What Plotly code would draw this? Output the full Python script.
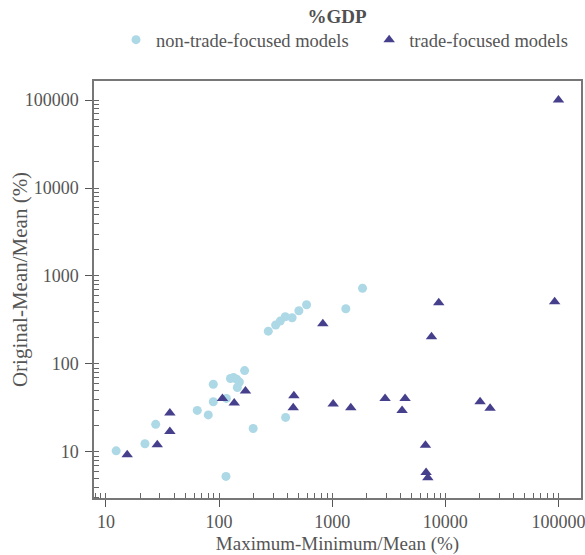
import plotly.graph_objects as go

# ---- data ----
non_trade_x = [12.3, 22.1, 27.5, 64.1, 80.2, 88.8, 88.8, 116, 115, 126, 134, 143, 151, 145,
               168, 200, 387, 272, 316, 347, 384, 442, 507, 593, 1318, 1852]
non_trade_y = [10.3, 12.4, 20.6, 29.7, 26.4, 58.9, 37.2, 40.6, 5.28, 68.4, 70.2, 67.1, 62.5, 54.1,
               84.2, 18.5, 24.7, 236, 277, 307, 344, 335, 403, 471, 424, 726]

trade_x = [15.4, 28.4, 36.7, 36.7, 107, 136, 171, 826, 458, 452, 1019, 1459, 2931, 4404, 4144,
           6668, 6755, 6998, 7541, 8742, 20270, 24850, 92500, 100000]
trade_y = [9.31, 12.1, 27.7, 17.1, 40.4, 36.1, 49.4, 287, 43.5, 31.8, 35, 31.8, 40.6, 40.6, 29.7,
           11.9, 5.83, 5.08, 204, 496, 37.2, 31.3, 509, 100000]

major_ticks = [10, 100, 1000, 10000, 100000]
major_labels = ["10", "100", "1000", "10000", "100000"]
mid_ticks = [5, 50, 500, 5000, 50000]

title_text = "%GDP"
x_title = "Maximum-Minimum/Mean (%)"
y_title = "Original-Mean/Mean (%)"

FONT = "Liberation Serif"
TXT = "#555555"
LINE = "#777777"
TICK = "#555555"
XR = [0.894, 5.199]
YR = [0.477, 5.216]

fig = go.Figure()
fig.add_trace(go.Scatter(x=non_trade_x, y=non_trade_y, mode="markers",
                         name="non-trade-focused models", legend="legend", showlegend=True,
                         marker=dict(symbol="circle", size=9, color="#add8e6")))
fig.add_trace(go.Scatter(x=trade_x, y=trade_y, mode="markers",
                         name="trade-focused models", legend="legend2", showlegend=True,
                         marker=dict(symbol="triangle-up", size=10, color="#463f8c")))

common = dict(type="log", showgrid=False, zeroline=False)
leg_common = dict(orientation="h", xanchor="left", y=1.098, yanchor="middle",
                  font=dict(size=18.5, color=TXT), itemwidth=30, bgcolor="rgba(0,0,0,0)")

fig.update_layout(
    width=585, height=555,
    margin=dict(l=94, r=4, t=81, b=57, autoexpand=False),
    paper_bgcolor="white", plot_bgcolor="white",
    showlegend=True,
    font=dict(family=FONT, color=TXT, size=18),
    title=dict(text="<b>" + title_text + "</b>", x=0.576, xanchor="center",
               y=0.971, yanchor="middle", font=dict(size=19, color="#505050")),
    legend=dict(**leg_common, x=0.0452),
    legend2=dict(**leg_common, x=0.565),
    xaxis=dict(**common, range=XR, showline=True, linecolor=LINE, linewidth=1.5, mirror=True,
               tickvals=major_ticks, ticktext=major_labels, ticks="outside", ticklen=7,
               tickcolor=TICK, tickwidth=1, tickfont=dict(size=18, color=TXT),
               ticklabeloverflow="allow",
               minor=dict(ticks="inside", ticklen=5, tickcolor="#666666", dtick="D1", showgrid=False),
               title=dict(text=x_title, font=dict(size=19, color=TXT), standoff=8)),
    yaxis=dict(**common, range=YR, showline=True, linecolor=LINE, linewidth=1.5, mirror=True,
               tickvals=major_ticks, ticktext=major_labels, ticks="outside", ticklen=7,
               tickcolor=TICK, tickwidth=1, tickfont=dict(size=18, color=TXT),
               ticklabelstandoff=3, ticklabeloverflow="allow",
               minor=dict(ticks="inside", ticklen=5, tickcolor="#666666", dtick="D1", showgrid=False)),
    xaxis2=dict(**common, range=XR, overlaying="x", anchor="y", side="bottom",
                tickvals=major_ticks, ticks="inside", ticklen=14, tickcolor=TICK,
                showticklabels=False, showline=False),
    yaxis2=dict(**common, range=YR, overlaying="y", anchor="x", side="left",
                tickvals=major_ticks, ticks="inside", ticklen=14, tickcolor=TICK,
                showticklabels=False, showline=False),
    xaxis3=dict(**common, range=XR, overlaying="x", anchor="y", side="bottom",
                tickvals=mid_ticks, ticks="inside", ticklen=9, tickcolor="#666666",
                showticklabels=False, showline=False),
    yaxis3=dict(**common, range=YR, overlaying="y", anchor="x", side="left",
                tickvals=mid_ticks, ticks="inside", ticklen=9, tickcolor="#666666",
                showticklabels=False, showline=False),
    annotations=[dict(text=y_title, textangle=-90, xref="paper", yref="paper",
                      x=-0.152, y=0.525, xanchor="center", yanchor="middle",
                      showarrow=False, font=dict(size=21, color=TXT))],
)

fig.write_html("out.html", config={"displayModeBar": False},
               post_script="document.body.style.margin='0';")
